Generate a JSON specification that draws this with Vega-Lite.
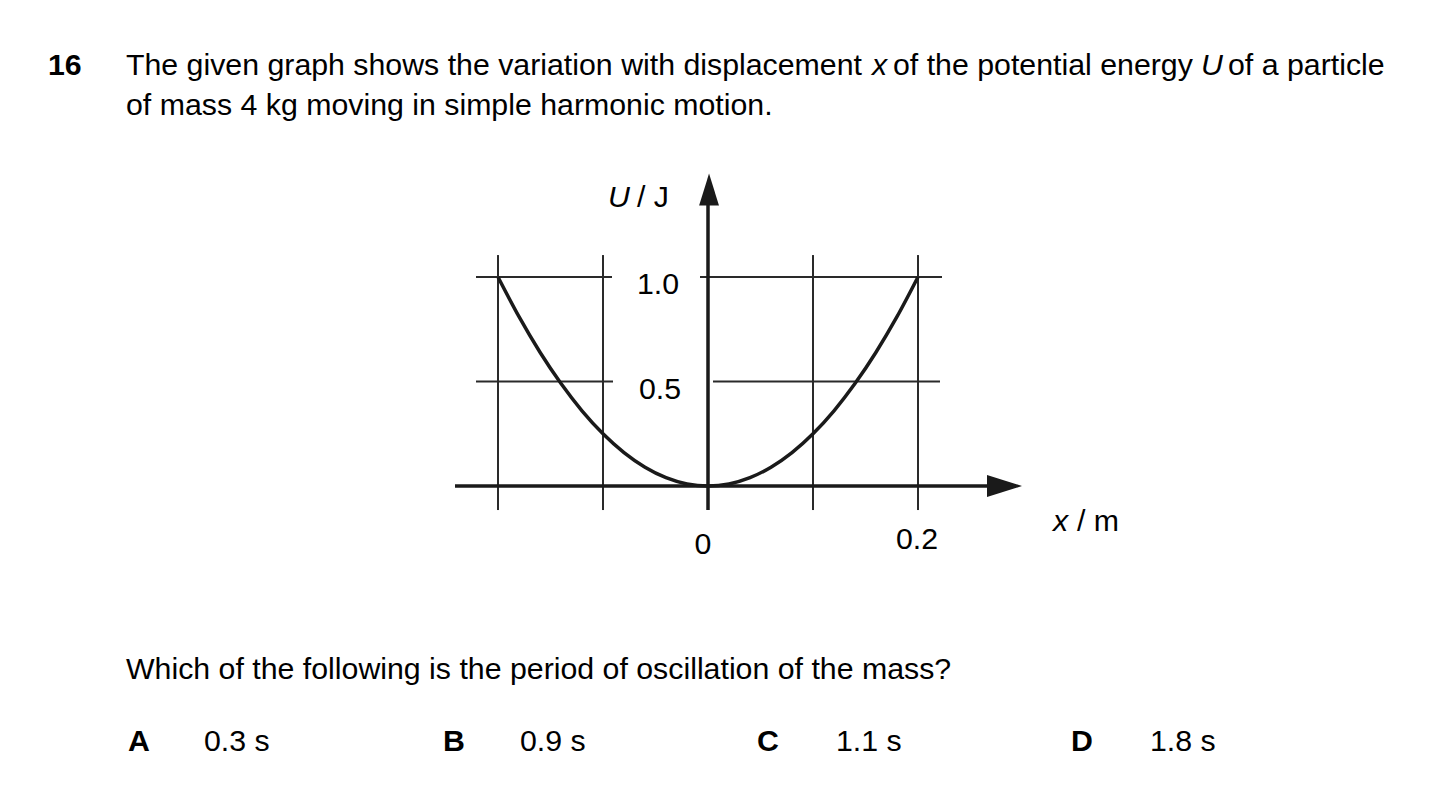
{
  "$schema": "https://vega.github.io/schema/vega-lite/v6.json",
  "width": 1451,
  "height": 797,
  "autosize": {"type": "fit", "contains": "padding"},
  "padding": 0,
  "background": "white",
  "config": {"view": {"stroke": null}},
  "datasets": {
    "grid": [
      {"x": -0.220952, "x2": -0.091429, "y": 1.0, "y2": 1.0},
      {"x": -0.007619, "x2": 0.222857, "y": 1.0, "y2": 1.0},
      {"x": -0.220952, "x2": -0.090476, "y": 0.5, "y2": 0.5},
      {"x": 0.004762, "x2": 0.220952, "y": 0.5, "y2": 0.5},
      {"x": -0.2, "x2": -0.2, "y": -0.115, "y2": 1.105},
      {"x": -0.1, "x2": -0.1, "y": -0.115, "y2": 1.105},
      {"x": 0.1, "x2": 0.1, "y": -0.115, "y2": 1.105},
      {"x": 0.2, "x2": 0.2, "y": -0.115, "y2": 1.105}
    ],
    "axes": [
      {"x": 0, "x2": 0, "y": -0.115, "y2": 1.36},
      {"x": -0.240952, "x2": 0.27, "y": 0, "y2": 0}
    ],
    "arrowUp": [{"x": 0.001, "y": 1.41866}],
    "arrowRight": [{"x": 0.282381, "y": 0}],
    "curve": [
      {"x": -0.2, "y": 1.0},
      {"x": -0.18, "y": 0.81},
      {"x": -0.16, "y": 0.64},
      {"x": -0.14, "y": 0.49},
      {"x": -0.12, "y": 0.36},
      {"x": -0.1, "y": 0.25},
      {"x": -0.08, "y": 0.16},
      {"x": -0.06, "y": 0.09},
      {"x": -0.04, "y": 0.04},
      {"x": -0.02, "y": 0.01},
      {"x": 0, "y": 0},
      {"x": 0.02, "y": 0.01},
      {"x": 0.04, "y": 0.04},
      {"x": 0.06, "y": 0.09},
      {"x": 0.08, "y": 0.16},
      {"x": 0.1, "y": 0.25},
      {"x": 0.12, "y": 0.36},
      {"x": 0.14, "y": 0.49},
      {"x": 0.16, "y": 0.64},
      {"x": 0.18, "y": 0.81},
      {"x": 0.2, "y": 1.0}
    ],
    "textNormal": [
      {"x": -0.554286, "y": 1.966507, "t": "The given graph shows the variation with displacement"},
      {"x": 0.17619, "y": 1.966507, "t": "of the potential energy"},
      {"x": 0.495238, "y": 1.966507, "t": "of a particle"},
      {"x": -0.554286, "y": 1.77512, "t": "of mass 4 kg moving in simple harmonic motion."},
      {"x": -0.554286, "y": -0.923445, "t": "Which of the following is the period of oscillation of the mass?"},
      {"x": -0.48, "y": -1.267943, "t": "0.3 s"},
      {"x": -0.179048, "y": -1.267943, "t": "0.9 s"},
      {"x": 0.121905, "y": -1.267943, "t": "1.1 s"},
      {"x": 0.420952, "y": -1.267943, "t": "1.8 s"},
      {"x": -0.067619, "y": 1.334928, "t": "/ J"},
      {"x": 0.351429, "y": -0.215311, "t": "/ m"}
    ],
    "textItalic": [
      {"x": 0.15619, "y": 1.966507, "t": "x"},
      {"x": 0.469524, "y": 1.966507, "t": "U"},
      {"x": -0.095238, "y": 1.334928, "t": "U"},
      {"x": 0.328571, "y": -0.215311, "t": "x"}
    ],
    "textBold": [
      {"x": -0.628571, "y": 1.966507, "t": "16"},
      {"x": -0.552381, "y": -1.267943, "t": "A"},
      {"x": -0.252381, "y": -1.267943, "t": "B"},
      {"x": 0.046667, "y": -1.267943, "t": "C"},
      {"x": 0.345714, "y": -1.267943, "t": "D"}
    ],
    "textCenter": [
      {"x": -0.047619, "y": 0.91866, "t": "1.0"},
      {"x": -0.045714, "y": 0.416268, "t": "0.5"},
      {"x": -0.004762, "y": -0.325359, "t": "0"},
      {"x": 0.199048, "y": -0.301435, "t": "0.2"}
    ]
  },
  "layer": [
    {
      "data": {"name": "grid"},
      "mark": {"type": "rule", "stroke": "#2a2a2a", "strokeWidth": 2},
      "encoding": {
        "x": {"field": "x", "type": "quantitative", "scale": {"domain": [-0.674286, 0.707619], "nice": false, "zero": false}, "axis": null},
        "x2": {"field": "x2"},
        "y": {"field": "y", "type": "quantitative", "scale": {"domain": [-1.488038, 2.325359], "nice": false, "zero": false}, "axis": null},
        "y2": {"field": "y2"}
      }
    },
    {
      "data": {"name": "axes"},
      "mark": {"type": "rule", "stroke": "#1a1a1a", "strokeWidth": 3.5},
      "encoding": {
        "x": {"field": "x", "type": "quantitative", "scale": {"domain": [-0.674286, 0.707619], "nice": false, "zero": false}, "axis": null},
        "x2": {"field": "x2"},
        "y": {"field": "y", "type": "quantitative", "scale": {"domain": [-1.488038, 2.325359], "nice": false, "zero": false}, "axis": null},
        "y2": {"field": "y2"}
      }
    },
    {
      "data": {"name": "curve"},
      "mark": {"type": "line", "stroke": "#1a1a1a", "strokeWidth": 3.5, "interpolate": "monotone"},
      "encoding": {
        "x": {"field": "x", "type": "quantitative", "scale": {"domain": [-0.674286, 0.707619], "nice": false, "zero": false}, "axis": null},
        "y": {"field": "y", "type": "quantitative", "scale": {"domain": [-1.488038, 2.325359], "nice": false, "zero": false}, "axis": null}
      }
    },
    {
      "data": {"name": "arrowUp"},
      "mark": {"type": "point", "shape": "M0,-1L0.62,1L-0.62,1Z", "size": 1024, "filled": true, "fill": "#1a1a1a", "opacity": 1, "strokeWidth": 0},
      "encoding": {
        "x": {"field": "x", "type": "quantitative", "scale": {"domain": [-0.674286, 0.707619], "nice": false, "zero": false}, "axis": null},
        "y": {"field": "y", "type": "quantitative", "scale": {"domain": [-1.488038, 2.325359], "nice": false, "zero": false}, "axis": null}
      }
    },
    {
      "data": {"name": "arrowRight"},
      "mark": {"type": "point", "shape": "M1,0L-1,-0.63L-1,0.63Z", "size": 1225, "filled": true, "fill": "#1a1a1a", "opacity": 1, "strokeWidth": 0},
      "encoding": {
        "x": {"field": "x", "type": "quantitative", "scale": {"domain": [-0.674286, 0.707619], "nice": false, "zero": false}, "axis": null},
        "y": {"field": "y", "type": "quantitative", "scale": {"domain": [-1.488038, 2.325359], "nice": false, "zero": false}, "axis": null}
      }
    },
    {
      "data": {"name": "textNormal"},
      "mark": {"type": "text", "font": "Liberation Sans", "fontSize": 30.3, "align": "left", "baseline": "alphabetic", "color": "#000000"},
      "encoding": {
        "x": {"field": "x", "type": "quantitative", "scale": {"domain": [-0.674286, 0.707619], "nice": false, "zero": false}, "axis": null},
        "y": {"field": "y", "type": "quantitative", "scale": {"domain": [-1.488038, 2.325359], "nice": false, "zero": false}, "axis": null},
        "text": {"field": "t"}
      }
    },
    {
      "data": {"name": "textItalic"},
      "mark": {"type": "text", "font": "Liberation Sans", "fontSize": 30.3, "fontStyle": "italic", "align": "left", "baseline": "alphabetic", "color": "#000000"},
      "encoding": {
        "x": {"field": "x", "type": "quantitative", "scale": {"domain": [-0.674286, 0.707619], "nice": false, "zero": false}, "axis": null},
        "y": {"field": "y", "type": "quantitative", "scale": {"domain": [-1.488038, 2.325359], "nice": false, "zero": false}, "axis": null},
        "text": {"field": "t"}
      }
    },
    {
      "data": {"name": "textBold"},
      "mark": {"type": "text", "font": "Liberation Sans", "fontSize": 30.3, "fontWeight": "bold", "align": "left", "baseline": "alphabetic", "color": "#000000"},
      "encoding": {
        "x": {"field": "x", "type": "quantitative", "scale": {"domain": [-0.674286, 0.707619], "nice": false, "zero": false}, "axis": null},
        "y": {"field": "y", "type": "quantitative", "scale": {"domain": [-1.488038, 2.325359], "nice": false, "zero": false}, "axis": null},
        "text": {"field": "t"}
      }
    },
    {
      "data": {"name": "textCenter"},
      "mark": {"type": "text", "font": "Liberation Sans", "fontSize": 30.3, "align": "center", "baseline": "alphabetic", "color": "#000000"},
      "encoding": {
        "x": {"field": "x", "type": "quantitative", "scale": {"domain": [-0.674286, 0.707619], "nice": false, "zero": false}, "axis": null},
        "y": {"field": "y", "type": "quantitative", "scale": {"domain": [-1.488038, 2.325359], "nice": false, "zero": false}, "axis": null},
        "text": {"field": "t"}
      }
    }
  ]
}
